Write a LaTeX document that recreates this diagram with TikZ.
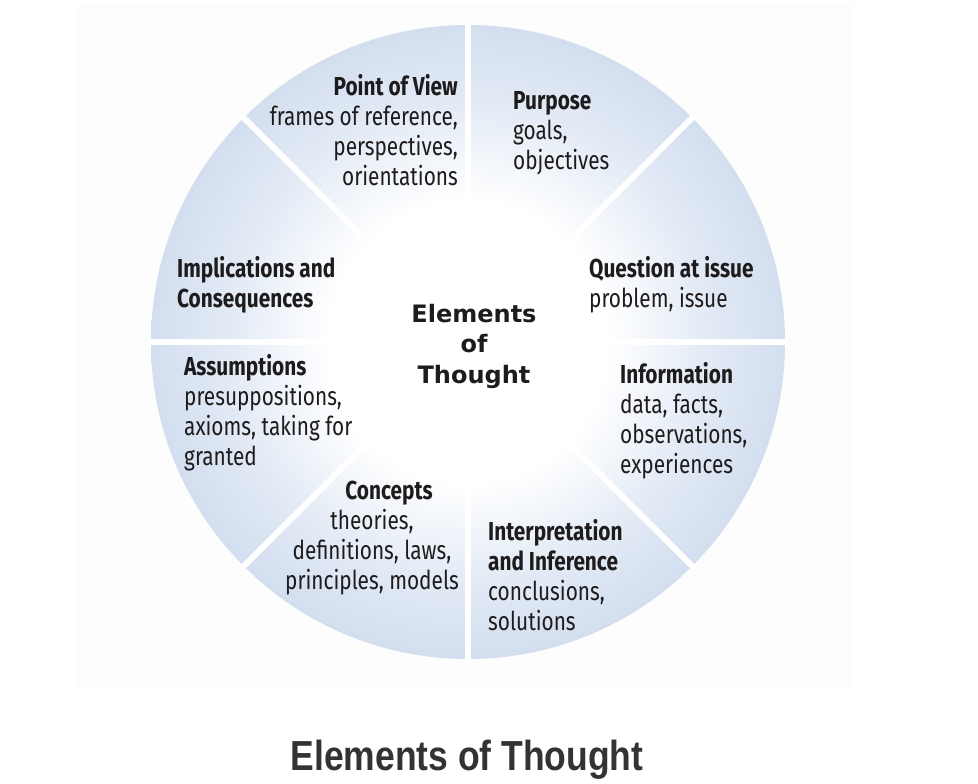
\documentclass[tikz,border=0pt]{standalone}
\usepackage{fontspec}
\usepackage{graphicx}
\usetikzlibrary{calc}
\setmainfont{Fira Sans}[FakeStretch=0.8]
\newfontfamily\centerfont{DejaVu Sans}
\newfontfamily\capfont{Liberation Sans}
\definecolor{outerblue}{RGB}{170,190,221}
\definecolor{deepblue}{RGB}{181,199,227}
\definecolor{midblue}{RGB}{198,212,234}
\definecolor{paleblue}{RGB}{226,234,245}
\definecolor{txt}{RGB}{30,27,28}
\definecolor{captxt}{RGB}{51,51,51}
\definecolor{bgpanel}{RGB}{253,253,253}
\pgfdeclareradialshading{eotshade}{\pgfpoint{0bp}{0bp}}{%
  color(0bp)=(white); color(11bp)=(white); color(19bp)=(paleblue);
  color(30bp)=(midblue); color(42bp)=(deepblue); color(50bp)=(outerblue);
  color(100bp)=(outerblue)}
\tikzset{
  seg/.style={inner sep=0pt, text=txt, font=\fontsize{26}{30}\selectfont},
  divider/.style={draw=white, line width=6pt},
}
\begin{document}
\begin{tikzpicture}[x=1pt,y=-1pt]
\useasboundingbox (0,0) rectangle (978,784);
\fill[white] (0,0) rectangle (978,784);
\fill[bgpanel] (77,3) rectangle (853,690);
\coordinate (c) at (468,342);
\shade[shading=eotshade] (c) circle[radius=317];
\foreach \a in {0,45,...,315}{
  \coordinate (e\a) at ($(c)+(\a:320)$);
}
\foreach \a in {0,45,...,315}{
  \draw[divider] (c) -- (e\a);
}
\node[seg, anchor=north east, align=right] (pov) at (458,74)
  {\textbf{Point of View}\\frames of reference,\\perspectives,\\orientations};
\node[seg, anchor=north west, align=left] (pur) at (513,91)
  {\textbf{Purpose}\\goals,\\objectives};
\node[seg, anchor=north west, align=left] (que) at (589,256)
  {\textbf{Question at issue}\\problem, issue};
\node[seg, anchor=north west, align=left] (inf) at (620,362)
  {\textbf{Information}\\data, facts,\\observations,\\experiences};
\node[seg, anchor=north west, align=left] (int) at (488,519)
  {\textbf{Interpretation}\\\textbf{and Inference}\\conclusions,\\solutions};
\node[seg, anchor=north, align=center] (con) at (372,481)
  {\hspace*{34pt}\textbf{Concepts}\\theories,\\definitions, laws,\\principles, models};
\node[seg, anchor=north west, align=left] (imp) at (177,256)
  {\textbf{Implications and}\\\textbf{Consequences}};
\node[seg, anchor=north west, align=left] (ass) at (184,354)
  {\textbf{Assumptions}\\presuppositions,\\axioms, taking for\\granted};
\node[inner sep=0pt, anchor=north, align=center, text=txt,
  font=\centerfont\bfseries\fontsize{24}{30.5}\selectfont] (ctr) at (474,304)
  {Elements\\of\\Thought};
\node[inner sep=0pt, anchor=base, text=captxt,
  font=\capfont\bfseries\fontsize{42}{48}\selectfont] (cap) at (467,770)
  {\scalebox{0.845}[1]{Elements of Thought}};
\end{tikzpicture}
\end{document}
